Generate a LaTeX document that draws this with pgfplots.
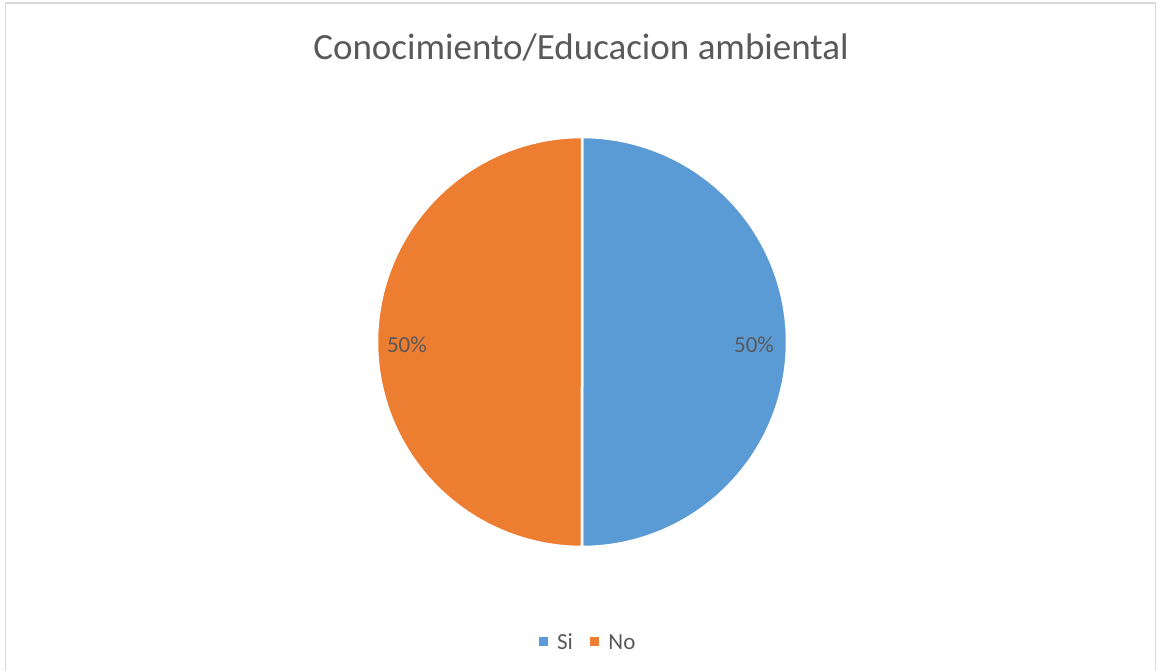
\documentclass[border=0pt]{standalone}
\usepackage{pgfplots}
\pgfplotsset{compat=1.18}
\usepackage{pgfplotstable}
\usepackage{fontspec}
\setmainfont{Carlito}
\definecolor{siblue}{HTML}{5B9BD5}
\definecolor{noorange}{HTML}{ED7D31}
\definecolor{txt}{HTML}{595959}
\definecolor{framegray}{HTML}{D9D9D9}
\pgfplotstableread{
label value
Si 50
No 50
}\piedata
\pgfplotstablegetelem{0}{value}\of\piedata \let\vA\pgfplotsretval
\pgfplotstablegetelem{1}{value}\of\piedata \let\vB\pgfplotsretval
\pgfmathsetmacro{\tot}{\vA+\vB}
\pgfmathsetmacro{\fA}{\vA/\tot}
\pgfmathsetmacro{\fB}{\vB/\tot}
\pgfmathsetmacro{\aA}{90-360*\fA}
\pgfmathsetmacro{\aB}{\aA-360*\fB}
\pgfmathtruncatemacro{\pA}{round(100*\fA)}
\pgfmathtruncatemacro{\pB}{round(100*\fB)}
\begin{document}%
\begin{tikzpicture}
\begin{axis}[
  scale only axis, width=1157pt, height=671pt,
  xmin=-2.8390, xmax=2.8049, ymin=-1.6049, ymax=1.6683,
  axis lines=none, clip=false,
  legend columns=2,
  legend style={draw=none, fill=none, at={(rel axis cs:0.5112,0.0425)}, anchor=base,
    font=\fontsize{23}{27}\selectfont, text=txt,
    /tikz/every even column/.append style={column sep=8pt},
    nodes={inner xsep=9pt}},
  legend image code/.code={\fill[#1, draw=none] (0pt,-4pt) rectangle (9.5pt,5.5pt);},
]
\addplot[fill=siblue, draw=white, line width=2.5pt, domain=\aA:90, samples=150]
  ({cos(x)},{sin(x)}) -- (axis cs:0,0) -- cycle;
\addlegendentry{Si}
\addplot[fill=noorange, draw=white, line width=2.5pt, domain=\aB:\aA, samples=150]
  ({cos(x)},{sin(x)}) -- (axis cs:0,0) -- cycle;
\addlegendentry{No}
\node[anchor=base, text=txt, font=\fontsize{23}{27}\selectfont] at (axis cs:0.839,-0.049) {\pA\%};
\node[anchor=base, text=txt, font=\fontsize{23}{27}\selectfont] at (axis cs:-0.854,-0.049) {\pB\%};
\node[anchor=base, text=txt, font=\fontsize{37}{44}\selectfont] at (rel axis cs:0.5022,0.9106) {Conocimiento/Educacion ambiental};
\draw[framegray, line width=1.2pt] (rel axis cs:0.00475,0) -- (rel axis cs:0.00475,0.9955) -- (rel axis cs:0.99870,0.9955) -- (rel axis cs:0.99870,0);
\end{axis}
\pgfresetboundingbox
\path[use as bounding box] (current axis.south west) rectangle (current axis.north east);
\end{tikzpicture}%
\end{document}
